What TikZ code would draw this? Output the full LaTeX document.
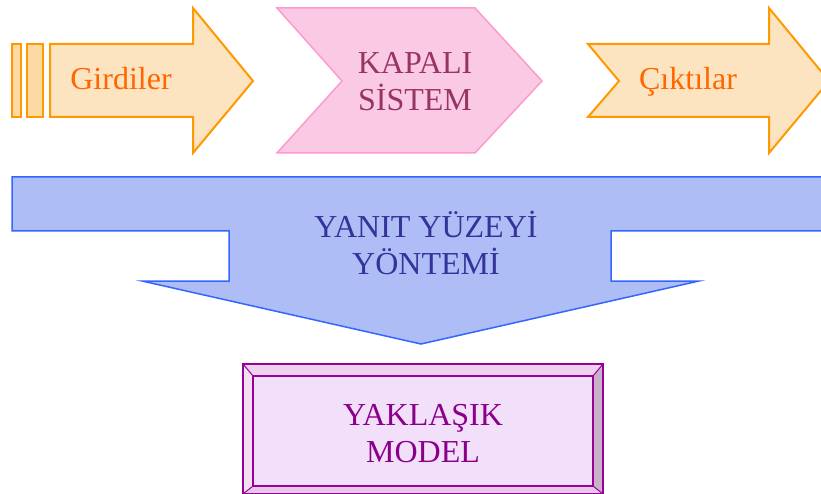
\documentclass[tikz,border=0pt]{standalone}
\usepackage{fontspec}
\setmainfont{Liberation Serif}
\usepackage{tikz}
\usetikzlibrary{positioning}

\definecolor{turuncu}{HTML}{FF9900}
\definecolor{turuncuic}{HTML}{FDE4C0}
\definecolor{turuncuyazi}{HTML}{FF6600}
\definecolor{pembe}{HTML}{FF99CC}
\definecolor{pembeic}{HTML}{FACAE4}
\definecolor{pembeyazi}{HTML}{993366}
\definecolor{mavi}{HTML}{3366FF}
\definecolor{maviic}{HTML}{AEBDF6}
\definecolor{maviyazi}{HTML}{333399}
\definecolor{mor}{HTML}{990099}
\definecolor{moric}{HTML}{F2E0FA}
\definecolor{moryazi}{HTML}{8B008B}

\begin{document}
\begin{tikzpicture}[x=1pt,y=-1pt,
	yazi/.style={font=\fontsize{32}{37}\selectfont,align=center}]
		\clip (0,0) rectangle (821,494);
		\fill[white] (0,0) rectangle (821,494);
		% girdiler
		\draw[line width=2pt,draw=turuncu,fill=turuncuic!85!turuncu] (12,44) rectangle (21,117);
		\draw[line width=2pt,draw=turuncu,fill=turuncuic!85!turuncu] (27,44) rectangle (43,117);
		\draw[line width=2pt,draw=turuncu,fill=turuncuic,line join=miter] (50,44) -- (193,44) -- (193,8) -- (253,81) -- (193,153) -- (193,117) -- (50,117) -- cycle;
		\node[yazi,text=turuncuyazi,anchor=base] (girdi) at (121,90) {Girdiler};
		% kapali sistem
		\draw[line width=1.5pt,draw=pembe,fill=pembeic] (277,8) -- (475,8) -- (542,81) -- (475,153) -- (277,153) -- (342,81) -- cycle;
		\node[yazi,text=pembeyazi] (sistem) at (415,82) {KAPALI\\S\.ISTEM};
		% ciktilar
		\draw[line width=2pt,draw=turuncu,fill=turuncuic] (588,44) -- (769,44) -- (769,8) -- (829,81) -- (769,153) -- (769,117) -- (588,117) -- (619,81) -- cycle;
		\node[yazi,text=turuncuyazi,anchor=base] (cikti) at (688,90) {Çıktılar};
		% yanit yuzeyi
		\draw[line width=1.5pt,draw=mavi,fill=maviic] (12,177) -- (830,177) -- (830,231) -- (611,231) -- (611,281) -- (699,281) -- (421,344) -- (142,281) -- (229,281) -- (229,231) -- (12,231) -- cycle;
		\node[yazi,text=maviyazi] (yanit) at (426,243) {YANIT YÜZEY\.I\\YÖNTEM\.I};
		% yaklasik model
		\fill[moric] (243,364) rectangle (603,494);
		\fill[mor!18] (243,364) -- (603,364) -- (593,376) -- (253,376) -- cycle;
		\fill[mor!35!gray!45] (603,364) -- (603,494) -- (593,486) -- (593,376) -- cycle;
		\fill[mor!12] (243,364) -- (253,376) -- (253,486) -- (243,494) -- cycle;
		\fill[mor!22] (243,494) -- (253,486) -- (593,486) -- (603,494) -- cycle;
		\draw[line width=1.6pt,mor] (243,364) rectangle (603,494);
		\draw[line width=1.4pt,mor] (253,376) rectangle (593,486);
		\draw[line width=1pt,mor] (243,364) -- (253,376) (603,364) -- (593,376) (243,494) -- (253,486) (603,494) -- (593,486);
		\node[yazi,text=moryazi] (model) at (423,434) {YAKLAŞIK\\MODEL};
		\end{tikzpicture}
\end{document}
